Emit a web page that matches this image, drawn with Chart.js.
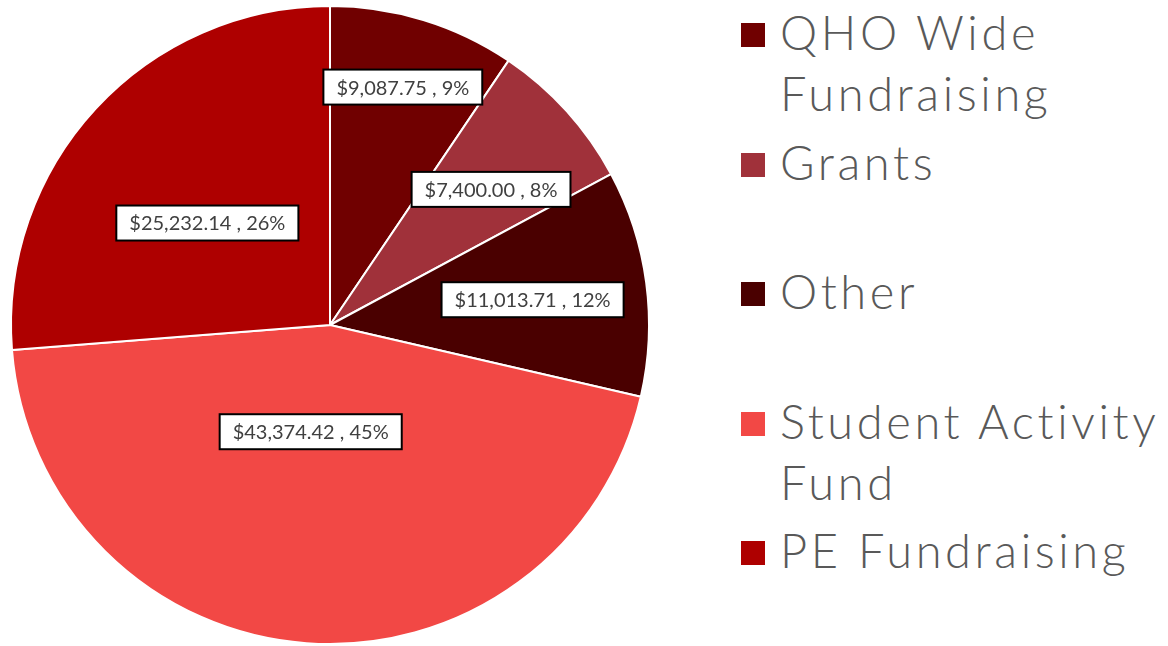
<!DOCTYPE html>
<html>
<head>
<meta charset="utf-8">
<script src="https://cdn.jsdelivr.net/npm/chart.js@4/dist/chart.umd.min.js"></script>
<style>
    html, body { margin: 0; padding: 0; background: #fff; }
    body { width: 1168px; height: 646px; position: relative; overflow: hidden; }
    #pie-wrap { position: absolute; left: 0; top: 0; width: 660px; height: 646px; }
    #legend { position: absolute; left: 741px; top: 0; font-family: Lato, 'Open Sans', sans-serif; font-weight: 300; color: #595959; }
    .leg-item { position: absolute; left: 0; width: 427px; }
    .leg-box { position: absolute; left: 0; top: 21px; width: 24px; height: 24px; }
    .leg-text { position: absolute; left: 39px; top: 0; font-size: 47px; line-height: 61px; letter-spacing: 3.6px; white-space: nowrap; }
</style>
</head>
<body>
<div id="pie-wrap"><canvas id="pie"></canvas></div>
<div id="legend"></div>

<script>
// data
const categories = ['QHO Wide Fundraising', 'Grants', 'Other', 'Student Activity Fund', 'PE Fundraising'];
const legendLines = [['QHO Wide', 'Fundraising'], ['Grants'], ['Other'], ['Student Activity', 'Fund'], ['PE Fundraising']];
const amounts = [9087.75, 7400.00, 11013.71, 43374.42, 25232.14];
const colors = ['#700000', '#A0313A', '#4A0000', '#F24845', '#AE0000'];

// label placement inside each slice (radius fraction, angle nudge in degrees)
const labelRadius = [0.78, 0.66, 0.64, 0.34, 0.5];
const labelNudge = [0, 2, 0.5, 6, -3];

const total = amounts.reduce((a, b) => a + b, 0);
const fmtMoney = v => '$' + v.toLocaleString('en-US', { minimumFractionDigits: 2, maximumFractionDigits: 2 });

// whole percentages that add up to 100 (largest remainder)
const rawPct = amounts.map(v => v / total * 100);
const pct = rawPct.map(Math.floor);
let left = 100 - pct.reduce((a, b) => a + b, 0);
rawPct.map((v, i) => [v - Math.floor(v), i])
    .sort((a, b) => b[0] - a[0])
    .forEach(([, i]) => { if (left > 0) { pct[i]++; left--; } });

// legend
const legend = document.getElementById('legend');
categories.forEach((c, i) => {
    const item = document.createElement('div');
    item.className = 'leg-item';
    item.style.top = (2 + i * 129.5) + 'px';
    item.innerHTML = `<div class="leg-box" style="background:${colors[i]}"></div>
        <div class="leg-text">${legendLines[i].join('<br>')}</div>`;
    legend.appendChild(item);
});

// boxed value labels
const boxLabels = {
    id: 'boxLabels',
    afterDatasetsDraw(chart) {
        const ctx = chart.ctx;
        const meta = chart.getDatasetMeta(0);
        ctx.save();
        ctx.font = '20px Lato, "Open Sans", sans-serif';
        ctx.textAlign = 'center';
        ctx.textBaseline = 'middle';
        meta.data.forEach((arc, i) => {
            const p = arc.getProps(['x', 'y', 'startAngle', 'endAngle', 'outerRadius'], true);
            const mid = (p.startAngle + p.endAngle) / 2 + labelNudge[i] * Math.PI / 180;
            const r = p.outerRadius * labelRadius[i];
            const x = p.x + Math.cos(mid) * r;
            const y = p.y + Math.sin(mid) * r;
            const txt = fmtMoney(amounts[i]) + ' , ' + pct[i] + '%';
            const w = ctx.measureText(txt).width + 26;
            const h = 35;
            ctx.fillStyle = '#fff';
            ctx.strokeStyle = '#000';
            ctx.lineWidth = 2;
            ctx.fillRect(x - w / 2, y - h / 2, w, h);
            ctx.strokeRect(x - w / 2, y - h / 2, w, h);
            ctx.fillStyle = '#404040';
            ctx.fillText(txt, x, y + 1);
        });
        ctx.restore();
    }
};

new Chart(document.getElementById('pie').getContext('2d'), {
    type: 'pie',
    data: {
        labels: categories,
        datasets: [{
            data: amounts,
            backgroundColor: colors,
            borderColor: '#fff',
            borderWidth: 2
        }]
    },
    options: {
        responsive: true,
        maintainAspectRatio: false,
        animation: false,
        layout: { padding: { top: 5, bottom: 1 } },
        plugins: {
            legend: { display: false },
            tooltip: { enabled: false }
        }
    },
    plugins: [boxLabels]
});
</script>
</body>
</html>
